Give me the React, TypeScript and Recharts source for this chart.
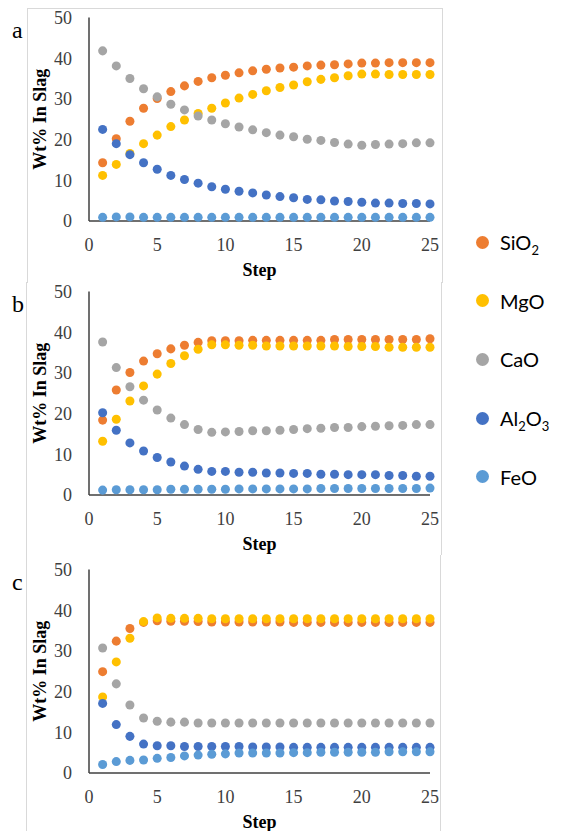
import React from "react";
import { ScatterChart, Scatter, XAxis, YAxis } from "recharts";

const steps = [1, 2, 3, 4, 5, 6, 7, 8, 9, 10, 11, 12, 13, 14, 15, 16, 17, 18, 19, 20, 21, 22, 23, 24, 25];
const xTicks = [0, 5, 10, 15, 20, 25];
const yTicks = [0, 10, 20, 30, 40, 50];

// panel a
const sio2A = [14.3, 20.2, 24.5, 27.7, 30.1, 31.8, 33.2, 34.3, 35.2, 35.8, 36.4, 36.9, 37.3, 37.6, 37.8, 38.1, 38.3, 38.4, 38.6, 38.8, 38.8, 38.9, 38.9, 38.9, 38.9];
const mgoA = [11.2, 13.9, 16.6, 19.0, 21.1, 23.2, 24.8, 26.4, 27.7, 29.0, 30.2, 31.1, 32.0, 32.8, 33.4, 34.2, 34.8, 35.2, 35.7, 36.1, 36.1, 36.0, 36.0, 36.0, 36.0];
const caoA = [41.8, 38.1, 35.0, 32.5, 30.5, 28.7, 27.3, 25.8, 24.8, 23.9, 23.1, 22.4, 21.7, 21.1, 20.7, 20.1, 19.8, 19.3, 18.9, 18.6, 18.8, 18.9, 19.0, 19.2, 19.2];
const al2o3A = [22.5, 19.0, 16.3, 14.3, 12.7, 11.2, 10.2, 9.3, 8.4, 7.8, 7.3, 6.9, 6.4, 6.0, 5.7, 5.3, 5.2, 4.9, 4.8, 4.6, 4.4, 4.4, 4.3, 4.3, 4.2];
const feoA = [0.9, 1.0, 1.0, 0.9, 0.9, 0.9, 0.9, 0.9, 0.9, 0.9, 0.9, 0.9, 0.9, 0.9, 0.9, 0.9, 0.9, 0.9, 0.9, 0.9, 0.9, 0.9, 0.9, 0.9, 0.9];

// panel b
const sio2B = [18.4, 25.8, 30.1, 32.9, 34.7, 35.9, 36.8, 37.5, 37.9, 37.9, 37.9, 38.0, 38.0, 38.0, 38.0, 38.0, 38.0, 38.2, 38.2, 38.2, 38.2, 38.2, 38.2, 38.2, 38.4];
const mgoB = [13.2, 18.6, 23.1, 26.8, 29.7, 32.3, 34.2, 35.8, 36.9, 36.9, 36.8, 36.8, 36.6, 36.6, 36.6, 36.6, 36.6, 36.6, 36.5, 36.5, 36.5, 36.3, 36.3, 36.3, 36.3];
const caoB = [37.6, 31.3, 26.6, 23.3, 20.9, 18.9, 17.3, 16.1, 15.4, 15.5, 15.6, 15.8, 15.8, 15.9, 16.1, 16.3, 16.4, 16.6, 16.6, 16.8, 16.9, 17.0, 17.1, 17.3, 17.3];
const al2o3B = [20.2, 15.9, 12.8, 10.8, 9.2, 8.1, 7.1, 6.3, 5.8, 5.8, 5.6, 5.6, 5.4, 5.4, 5.3, 5.3, 5.1, 5.1, 5.0, 5.0, 5.0, 4.8, 4.8, 4.6, 4.6];
const feoB = [1.2, 1.3, 1.3, 1.3, 1.3, 1.4, 1.4, 1.4, 1.4, 1.4, 1.5, 1.5, 1.5, 1.5, 1.5, 1.5, 1.6, 1.6, 1.6, 1.6, 1.6, 1.6, 1.6, 1.6, 1.7];

// panel c
const sio2C = [24.9, 32.4, 35.5, 37.0, 37.4, 37.3, 37.3, 37.2, 37.1, 37.1, 37.1, 37.1, 37.1, 37.1, 37.0, 37.0, 37.0, 37.0, 37.0, 37.0, 37.0, 37.0, 37.0, 37.0, 37.0];
const mgoC = [18.7, 27.3, 33.1, 37.2, 38.1, 38.0, 38.0, 38.0, 37.9, 37.9, 37.9, 37.9, 37.9, 37.9, 37.9, 37.9, 37.9, 37.9, 37.9, 37.9, 37.9, 37.9, 37.9, 37.9, 37.9];
const caoC = [30.7, 21.9, 16.7, 13.5, 12.7, 12.5, 12.5, 12.3, 12.3, 12.3, 12.3, 12.3, 12.3, 12.3, 12.3, 12.3, 12.3, 12.3, 12.3, 12.3, 12.3, 12.3, 12.3, 12.3, 12.3];
const al2o3C = [17.1, 11.9, 9.0, 7.1, 6.7, 6.7, 6.5, 6.5, 6.5, 6.5, 6.5, 6.4, 6.4, 6.4, 6.3, 6.3, 6.3, 6.3, 6.3, 6.3, 6.3, 6.3, 6.3, 6.3, 6.3];
const feoC = [2.1, 2.8, 3.1, 3.2, 3.6, 3.8, 4.2, 4.4, 4.6, 4.7, 4.9, 4.9, 4.9, 4.9, 5.0, 5.0, 5.1, 5.1, 5.1, 5.1, 5.1, 5.2, 5.2, 5.2, 5.2];

const colors = {
  SiO2: "#ED7D31",
  MgO: "#FFC000",
  CaO: "#A5A5A5",
  Al2O3: "#4472C4",
  FeO: "#5B9BD5",
};

const toPoints = (vals: number[]) => steps.map((s, i) => ({ x: s, y: vals[i] }));

const serif = "'Liberation Serif', 'Times New Roman', serif";
const axisColor = "#404040";

type PanelProps = {
  letter: string;
  top: number;
  series: { key: keyof typeof colors; vals: number[] }[];
};

function Panel({ letter, top, series }: PanelProps) {
  return (
    <div style={{ position: "absolute", left: 0, top, width: 440, height: 280 }}>
      <ScatterChart width={440} height={280} margin={{ top: 17.5, right: 10, bottom: 3, left: 0 }}>
        <XAxis
          type="number"
          dataKey="x"
          domain={[0, 25]}
          ticks={xTicks}
          tickLine={false}
          tickSize={0}
          tickMargin={17}
          height={56}
          stroke={axisColor}
          strokeWidth={1.5}
          tick={{ fill: axisColor, fontSize: 18, fontFamily: serif }}
          label={{
            value: "Step",
            position: "insideBottom",
            offset: 1,
            style: { fill: "#000", fontSize: 18, fontWeight: "bold", fontFamily: serif },
          }}
        />
        <YAxis
          type="number"
          dataKey="y"
          domain={[0, 50]}
          ticks={yTicks}
          tickLine={false}
          tickSize={0}
          tickMargin={17}
          width={89}
          stroke={axisColor}
          strokeWidth={1.5}
          tick={{ fill: axisColor, fontSize: 18, fontFamily: serif }}
          label={{
            value: "Wt% In Slag",
            angle: -90,
            position: "insideLeft",
            offset: 40,
            style: { fill: "#000", fontSize: 18, fontWeight: "bold", fontFamily: serif, textAnchor: "middle" },
          }}
        />
        {series.map((s) => (
          <Scatter
            key={s.key}
            data={toPoints(s.vals)}
            fill={colors[s.key]}
            isAnimationActive={false}
          />
        ))}
      </ScatterChart>
      <div
        style={{
          position: "absolute",
          left: 12,
          top: 18,
          fontFamily: serif,
          fontSize: 24,
          lineHeight: "24px",
          color: "#000",
        }}
      >
        {letter}
      </div>
    </div>
  );
}

const subStyle: React.CSSProperties = { fontSize: 13, verticalAlign: "-5px", lineHeight: 0 };

const legendItems: { key: keyof typeof colors; label: React.ReactNode }[] = [
  { key: "SiO2", label: <>SiO<span style={subStyle}>2</span></> },
  { key: "MgO", label: <>MgO</> },
  { key: "CaO", label: <>CaO</> },
  { key: "Al2O3", label: <>Al<span style={subStyle}>2</span>O<span style={subStyle}>3</span></> },
  { key: "FeO", label: <>FeO</> },
];

export default function App() {
  const border = "1px solid #d9d9d9";
  return (
    <div style={{ position: "absolute", left: 0, top: 0, width: 562, height: 831, background: "#fff", overflow: "hidden" }}>
      {/* chart area frames */}
      <div style={{ position: "absolute", left: 27, top: 8, width: 414, height: 274, borderTop: border, borderLeft: border, borderRight: border }} />
      <div style={{ position: "absolute", left: 26, top: 282, width: 414, height: 273, borderLeft: border, borderRight: border }} />
      <div style={{ position: "absolute", left: 26, top: 555, width: 413, height: 276, borderLeft: border, borderRight: border }} />

      <Panel
        letter="a"
        top={0}
        series={[
          { key: "SiO2", vals: sio2A },
          { key: "MgO", vals: mgoA },
          { key: "CaO", vals: caoA },
          { key: "Al2O3", vals: al2o3A },
          { key: "FeO", vals: feoA },
        ]}
      />
      <Panel
        letter="b"
        top={273.5}
        series={[
          { key: "SiO2", vals: sio2B },
          { key: "MgO", vals: mgoB },
          { key: "CaO", vals: caoB },
          { key: "Al2O3", vals: al2o3B },
          { key: "FeO", vals: feoB },
        ]}
      />
      <Panel
        letter="c"
        top={551.5}
        series={[
          { key: "SiO2", vals: sio2C },
          { key: "MgO", vals: mgoC },
          { key: "CaO", vals: caoC },
          { key: "Al2O3", vals: al2o3C },
          { key: "FeO", vals: feoC },
        ]}
      />

      {/* legend */}
      {legendItems.map((item, i) => (
        <div
          key={item.key}
          style={{
            position: "absolute",
            left: 476,
            top: 242 + i * 58.7 - 14,
            height: 28,
            display: "flex",
            alignItems: "center",
            fontFamily: "Lato, 'Liberation Sans', sans-serif",
            fontSize: 20,
            color: "#000",
            whiteSpace: "nowrap",
          }}
        >
          <span
            style={{
              display: "inline-block",
              width: 13,
              height: 13,
              borderRadius: "50%",
              background: colors[item.key],
              marginRight: 11,
            }}
          />
          <span style={{ lineHeight: "28px" }}>{item.label}</span>
        </div>
      ))}
    </div>
  );
}
